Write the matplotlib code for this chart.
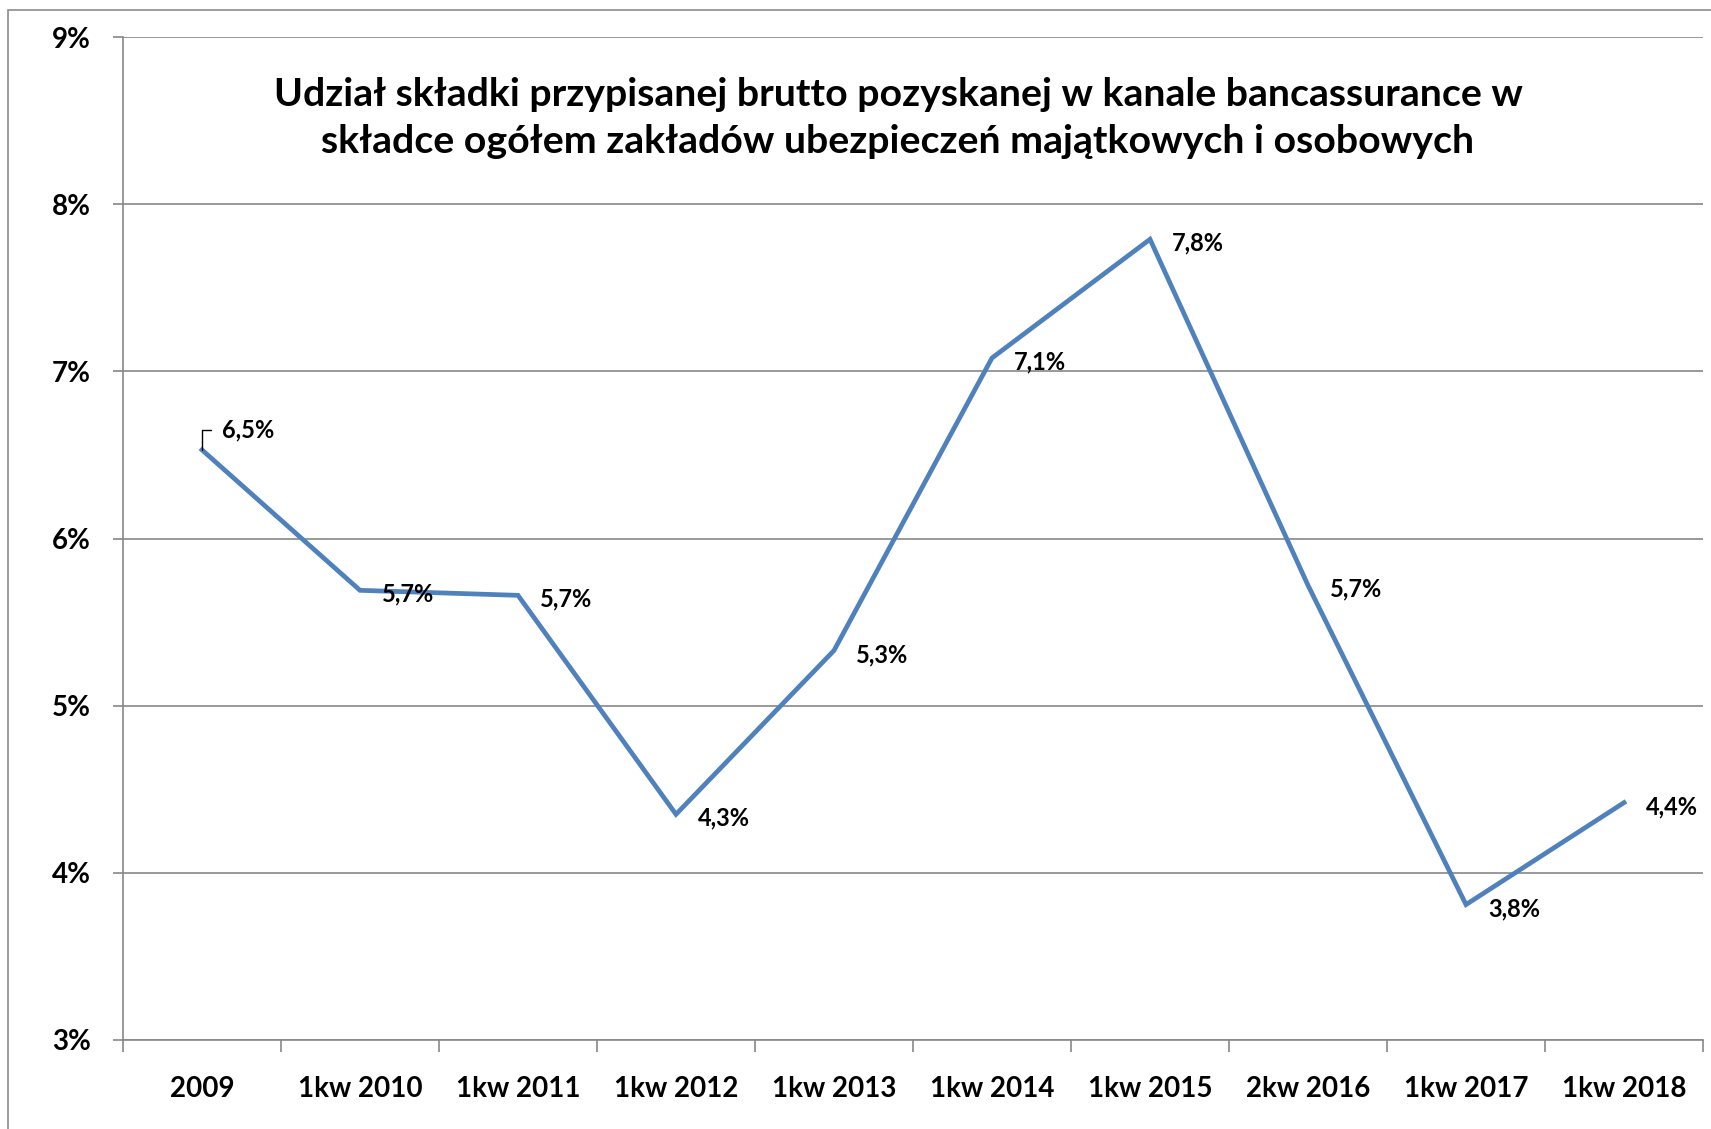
import matplotlib
matplotlib.use("Agg")
import matplotlib.pyplot as plt
from matplotlib.patches import Rectangle

plt.rcParams['font.family'] = ['Lato', 'DejaVu Sans']

categories = ["2009", "1kw 2010", "1kw 2011", "1kw 2012", "1kw 2013",
              "1kw 2014", "1kw 2015", "2kw 2016", "1kw 2017", "1kw 2018"]
values = [6.53, 5.69, 5.66, 4.35, 5.33, 7.08, 7.79, 5.72, 3.81, 4.42]
labels = ["6,5%", "5,7%", "5,7%", "4,3%", "5,3%", "7,1%", "7,8%", "5,7%", "3,8%", "4,4%"]
yticks = [3, 4, 5, 6, 7, 8, 9]
ytick_labels = ["3%", "4%", "5%", "6%", "7%", "8%", "9%"]
title = ("Udział składki przypisanej brutto pozyskanej w kanale bancassurance w\n"
         "składce ogółem zakładów ubezpieczeń majątkowych i osobowych")

W, H = 1711, 1129
DPI = 100
fig = plt.figure(figsize=(W / DPI, H / DPI), dpi=DPI)
px = 72.0 / DPI  # points per pixel

GRID = "#878787"
LINE = "#4F81BD"

# outer chart frame (left and top visible)
fig.patches.append(Rectangle((8 / W, -0.1), 1.2, (H - 10) / H + 0.1,
                             transform=fig.transFigure, fill=False,
                             edgecolor="#8C8C8C", linewidth=1.2))

ax = fig.add_axes([123 / W, 1 - 1040 / H, (1703 - 123) / W, (1040 - 37) / H])
n = len(categories)
xs = [i + 0.5 for i in range(n)]
ax.set_xlim(0, n)
ax.set_ylim(3, 9)

for s in ["top", "right"]:
    ax.spines[s].set_visible(False)
for s in ["left", "bottom"]:
    ax.spines[s].set_color(GRID)
    ax.spines[s].set_linewidth(1.2)

ax.set_yticks(yticks)
ax.set_yticklabels(ytick_labels, fontsize=20, fontweight="bold")
ax.yaxis.grid(True, color=GRID, linewidth=1.2)
ax.set_axisbelow(True)
ax.tick_params(axis="y", length=10 * px, width=1.2, color=GRID, pad=22 * px)

ax.set_xticks(range(n + 1))
ax.set_xticklabels([])
ax.set_xticks(xs, minor=True)
ax.set_xticklabels(categories, minor=True, fontsize=20, fontweight="bold")
ax.tick_params(axis="x", which="major", length=12 * px, width=1.2, color=GRID)
ax.tick_params(axis="x", which="minor", length=0, pad=36 * px)

ax.plot(xs, values, color=LINE, linewidth=3.4, solid_joinstyle="miter", zorder=3)

for i, (x, v, lab) in enumerate(zip(xs, values, labels)):
    if i == 0:
        ax.annotate(lab, xy=(x, v), xytext=(20 * px, 20 * px), textcoords="offset points",
                    ha="left", va="center", fontsize=17, fontweight="bold",
                    arrowprops=dict(arrowstyle="-", color="black", lw=1.0,
                                    connectionstyle="angle,angleA=0,angleB=90,rad=0",
                                    relpos=(0, 0.5), shrinkA=8 * px, shrinkB=0))
    else:
        ax.annotate(lab, xy=(x, v), xytext=(22 * px, -4 * px), textcoords="offset points",
                    ha="left", va="center", fontsize=17, fontweight="bold", zorder=4)

fig.text(898 / W, 1 - 118 / H, title, ha="center", va="center", fontsize=28.3,
         fontweight="bold", linespacing=1.42)

fig.savefig("out.png", dpi=DPI)
